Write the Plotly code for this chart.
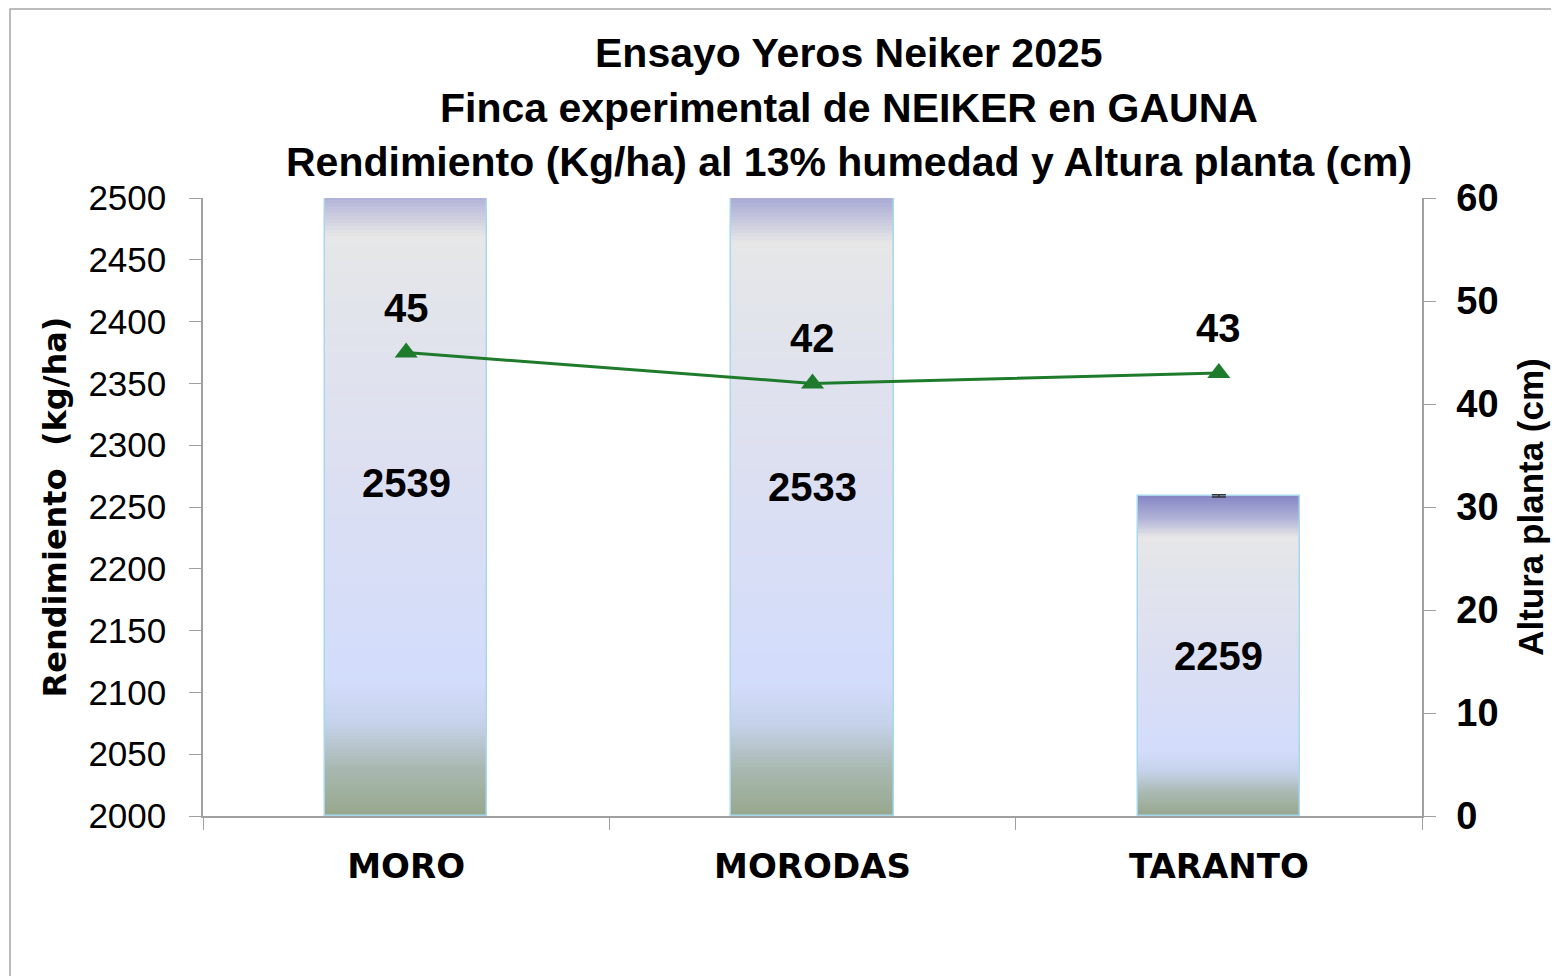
import plotly.graph_objects as go

categories = ["MORO", "MORODAS", "TARANTO"]
rendimiento = [2539, 2533, 2259]
rend_err = [2, 2, 1]
altura = [45, 42, 43]
y_ticks = [2000, 2050, 2100, 2150, 2200, 2250, 2300, 2350, 2400, 2450, 2500]
y2_ticks = [0, 10, 20, 30, 40, 50, 60]
title_lines = [
    "Ensayo Yeros Neiker 2025",
    "Finca experimental de NEIKER en GAUNA",
    "Rendimiento (Kg/ha) al 13% humedad y Altura planta (cm)",
]

# gradient stops (fraction from bar bottom, colour)
stops = [
    (0.00, (0x97, 0xa7, 0x8c)),
    (0.07, (0xa8, 0xb8, 0xb0)),
    (0.14, (0xc6, 0xd2, 0xea)),
    (0.20, (0xd2, 0xdc, 0xfb)),
    (0.50, (0xdc, 0xdf, 0xf2)),
    (0.80, (0xe3, 0xe5, 0xea)),
    (0.87, (0xe7, 0xe7, 0xe7)),
    (0.93, (0xb0, 0xb1, 0xd7)),
    (1.00, (0x85, 0x87, 0xc5)),
]

def col_at(f):
    for (f0, c0), (f1, c1) in zip(stops[:-1], stops[1:]):
        if f0 <= f <= f1:
            t = (f - f0) / (f1 - f0) if f1 > f0 else 0
            c = [round(a + (b - a) * t) for a, b in zip(c0, c1)]
            return f"rgb({c[0]},{c[1]},{c[2]})"
    c = stops[-1][1]
    return f"rgb({c[0]},{c[1]},{c[2]})"

BASE = 2000
N = 200
WIDTH = 0.4
fig = go.Figure()
for i in range(N):
    f0 = i / N
    f1 = (i + 1) / N
    bases = [BASE + (v - BASE) * f0 for v in rendimiento]
    hts = [min((v - BASE) * (f1 - f0) * 1.6, v - b) for v, b in zip(rendimiento, bases)]
    fig.add_trace(go.Bar(
        x=categories, y=hts, base=bases, width=WIDTH,
        marker=dict(color=col_at((f0 + f1) / 2), line=dict(width=0)),
        showlegend=False, hoverinfo="skip",
    ))

# outline bar with error bars
fig.add_trace(go.Bar(
    x=categories, y=[v - BASE for v in rendimiento], base=[BASE] * 3, width=WIDTH,
    marker=dict(color="rgba(0,0,0,0)", line=dict(color="#a8d8f0", width=1.5)),
    error_y=dict(type="data", array=rend_err, color="#333333", thickness=1.5, width=7),
    showlegend=False, name="Rendimiento",
))

# line on secondary axis
fig.add_trace(go.Scatter(
    x=categories, y=altura, yaxis="y2", mode="lines+markers",
    line=dict(color="#1e7b2c", width=3),
    marker=dict(symbol="triangle-up", size=20, color="#1e7b2c"),
    showlegend=False, name="Altura",
))

LBL_FONT = dict(family="Liberation Sans, Arial", size=40, color="black", weight="bold")
# bar value labels
for c, v in zip(categories, rendimiento):
    fig.add_annotation(x=c, y=(BASE + v) / 2, text=str(v), showarrow=False, font=LBL_FONT)
# line value labels
for c, h in zip(categories, altura):
    fig.add_annotation(x=c, y=h, yref="y2", text=str(h), showarrow=False, yshift=45, font=LBL_FONT)

# page-pixel geometry of the plot area (figure sits 8px into the page)
OFF = 8
L, R, T, B = 203, 1422, 198, 816
W, H = 1559, 976
def px2paper_x(px):
    return (px - L) / (R - L)
def px2paper_y(py):
    return (B - py) / (B - T)

# title lines
for line, py in zip(title_lines, [53, 108, 162]):
    fig.add_annotation(xref="paper", yref="paper", x=px2paper_x(849), y=px2paper_y(py),
                       xanchor="center", yanchor="middle", text=line, showarrow=False,
                       font=dict(family="Liberation Sans, Arial", size=41, color="black", weight="bold"))

# outer chart border
fig.add_shape(type="rect", xref="paper", yref="paper",
              x0=px2paper_x(10), x1=px2paper_x(1600), y0=px2paper_y(1020), y1=px2paper_y(9),
              line=dict(color="#a6a6a6", width=1.5), fillcolor="rgba(0,0,0,0)", layer="below")

fig.update_layout(
    width=W, height=H,
    margin=dict(l=L - OFF, r=W - (R - OFF), t=T - OFF, b=H - (B - OFF)),
    barmode="overlay", bargap=0,
    plot_bgcolor="white", paper_bgcolor="white",
    xaxis=dict(
        type="category", showline=True, linecolor="#a0a0a0", linewidth=1.5,
        ticks="outside", tickson="boundaries", ticklen=12, tickcolor="#a0a0a0",
        ticklabelstandoff=19,
        tickfont=dict(family="DejaVu Sans", size=34, color="black", weight="bold"),
        showgrid=False, zeroline=False, range=[-0.5, 2.5],
    ),
    yaxis=dict(
        range=[2000, 2500], tickvals=y_ticks, showgrid=False, zeroline=False,
        showline=True, linecolor="#a0a0a0", linewidth=1.5,
        ticks="outside", ticklen=12, tickcolor="#a0a0a0", ticklabelstandoff=16,
        tickfont=dict(family="Liberation Sans, Arial", size=35, color="black"),
        title=dict(text="Rendimiento  (kg/ha)", standoff=12,
                   font=dict(family="DejaVu Sans", size=32, color="black", weight="bold")),
    ),
    yaxis2=dict(
        overlaying="y", side="right", range=[0, 60], tickvals=y2_ticks,
        showgrid=False, zeroline=False, showline=True, linecolor="#a0a0a0", linewidth=1.5,
        ticks="outside", ticklen=12, tickcolor="#a0a0a0", ticklabelstandoff=13,
        tickfont=dict(family="Liberation Sans, Arial", size=38, color="black", weight="bold"),
        title=dict(text="Altura planta (cm)", standoff=21,
                   font=dict(family="Liberation Sans, Arial", size=35, color="black", weight="bold")),
    ),
)

fig.write_html("out.html")
